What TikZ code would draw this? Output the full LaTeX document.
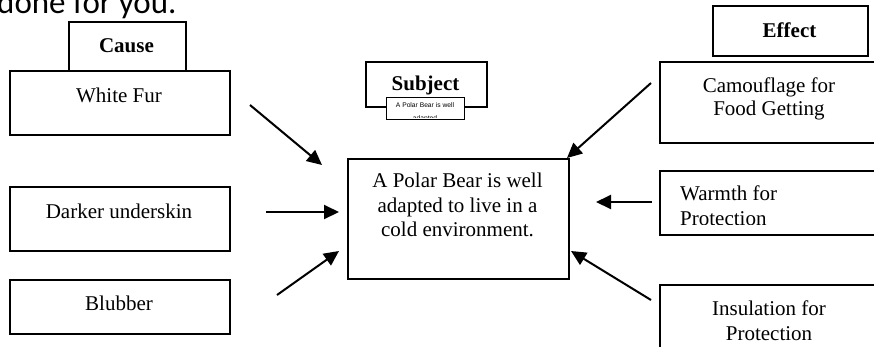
\documentclass[tikz,border=0pt]{standalone}
\usepackage{fontspec}
\setmainfont{Liberation Serif}
\newfontfamily\calib{Carlito}
\newfontfamily\arialf{Liberation Sans}
\usetikzlibrary{arrows.meta}
\begin{document}
\begin{tikzpicture}[x=1pt,y=-1pt,
  box/.style={draw,line width=1.7pt,fill=white,inner sep=0pt,anchor=north west},
  txt/.style={inner sep=0pt,anchor=north,align=center,font=\fontsize{21}{24.5}\selectfont},
  btxt/.style={txt,font=\fontsize{21}{24.5}\selectfont\bfseries},
  arr/.style={line width=2pt,-{Triangle[length=15pt,width=14pt]}}]
\useasboundingbox (0,0) rectangle (874,346);
% heading fragment
\node[inner sep=0pt,anchor=base west,font=\calib\fontsize{33}{36}\selectfont] (head) at (-3,13) {done for you.};
% cause side
\node[box,minimum width=117pt,minimum height=49pt] (causebox) at (68,21) {};
\node[btxt] (cause) at (126.5,38) {Cause};
\node[box,minimum width=220pt,minimum height=64pt] (furbox) at (9,70) {};
\node[txt] (fur) at (119,88) {White Fur};
\node[box,minimum width=220pt,minimum height=64pt] (darkbox) at (9,186) {};
\node[txt] (dark) at (119,204) {Darker underskin};
\node[box,minimum width=220pt,minimum height=54pt] (blubbox) at (9,279) {};
\node[txt] (blub) at (119,296) {Blubber};
% subject
\node[box,line width=1.8pt,minimum width=121pt,minimum height=45pt] (subjbox) at (365,61) {};
\node[btxt] (subj) at (425.5,76) {Subject};
\node[box,line width=1pt,minimum width=78pt,minimum height=22pt] (smallbox) at (386,97) {};
\node[inner sep=0pt,anchor=base,font=\arialf\fontsize{6.7}{8}\selectfont] (small1) at (425,107.5) {A Polar Bear is well};
\begin{scope}
\clip (387,97) rectangle (463,117.5);
\node[inner sep=0pt,anchor=base,font=\arialf\fontsize{6.7}{8}\selectfont] (small2) at (425,120.5) {adapted};
\end{scope}
% center
\node[box,minimum width=221pt,minimum height=120pt] (centerbox) at (347,158) {};
\node[txt] (center) at (457.5,173) {A Polar Bear is well\\adapted to live in a\\cold environment.};
% effect side
\node[box,minimum width=155pt,minimum height=50pt] (effbox) at (712,5) {};
\node[btxt] (eff) at (789.5,23) {Effect};
\node[box,minimum width=240pt,minimum height=81pt] (camobox) at (659,61) {};
\node[txt,font=\fontsize{21}{23}\selectfont] (camo) at (769,78) {Camouflage for\\Food Getting};
\node[box,minimum width=240pt,minimum height=64pt] (warmbox) at (659,170) {};
\begin{scope}
\clip (660,171) rectangle (890,224.5);
\node[txt,anchor=north west,align=left,font=\fontsize{21}{25}\selectfont] (warm) at (680,186) {Warmth for\\Protection};
\end{scope}
\node[box,minimum width=240pt,minimum height=80pt] (insbox) at (659,284) {};
\node[txt,font=\fontsize{21}{25}\selectfont] (ins) at (769,301) {Insulation for\\Protection};
% arrow ends
\coordinate (a1s) at (250,105); \coordinate (a1e) at (322,165);
\coordinate (a2s) at (266,212); \coordinate (a2e) at (339,212);
\coordinate (a3s) at (277,295); \coordinate (a3e) at (339,251);
\coordinate (b1s) at (651,83);  \coordinate (b1e) at (567,158);
\coordinate (b2s) at (652,202); \coordinate (b2e) at (596,202);
\coordinate (b3s) at (651,300); \coordinate (b3e) at (571,251);
\draw[arr] (a1s) -- (a1e);
\draw[arr] (a2s) -- (a2e);
\draw[arr] (a3s) -- (a3e);
\draw[arr] (b1s) -- (b1e);
\draw[arr] (b2s) -- (b2e);
\draw[arr] (b3s) -- (b3e);
\end{tikzpicture}
\end{document}
